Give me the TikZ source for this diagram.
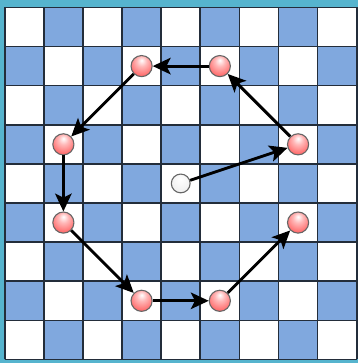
\documentclass[tikz,border=0pt]{standalone}
\usepackage{xcolor}
\usepackage{tikz}
\usetikzlibrary{arrows.meta,positioning,shadings}

\definecolor{cellblue}{RGB}{128,168,222}
\definecolor{gridink}{RGB}{35,45,58}
\definecolor{frameteal}{RGB}{86,180,206}

\pgfdeclareradialshading{pinkball}{\pgfpoint{0bp}{14bp}}{%
  color(0bp)=(white); color(12bp)=(red!28!white);
  color(36bp)=(red!68!white); color(64bp)=(red!70!black!85!white)}
\pgfdeclareradialshading{greyball}{\pgfpoint{0bp}{12bp}}{%
  color(0bp)=(white); color(28bp)=(gray!12); color(62bp)=(gray!45)}

\begin{document}
\begin{tikzpicture}[
    >={Stealth[length=13pt,width=12pt,inset=3pt]},
    cell/.style={fill=cellblue},
    gridlines/.style={draw=gridink, line width=1.2pt},
    stone/.style={
        circle,
        inner sep=0pt,
        minimum size=0.54cm,
        draw=gray!80!black,
        line width=0.8pt,
        shading=pinkball
    },
    home/.style={
        stone,
        minimum size=0.48cm,
        shading=greyball
    },
    arr/.style={->, line width=2.1pt}
]

\useasboundingbox (-0.12,-0.09) rectangle (9.04,9.19);
\fill[frameteal] (-0.12,-0.09) rectangle (9.04,9.19);
\fill[white] (0,0) rectangle (9,9);

\foreach \i in {0,...,8}
  \foreach \j in {0,...,8}{
    \pgfmathtruncatemacro{\odd}{mod(\i+\j,2)}
    \ifnum\odd=1 \fill[cell] (\i,\j) rectangle ++(1,1); \fi
  }
\draw[gridlines] (0,0) grid (9,9);

\node[home] (start) at (4.5,4.5) {};
\node[stone] (nnw) at (3.5,7.5) {};
\node[stone] (nne) at (5.5,7.5) {};
\node[stone] (ene) at (7.5,5.5) {};
\node[stone] (ese) at (7.5,3.5) {};
\node[stone] (sse) at (5.5,1.5) {};
\node[stone] (ssw) at (3.5,1.5) {};
\node[stone] (wsw) at (1.5,3.5) {};
\node[stone] (wnw) at (1.5,5.5) {};

\draw[arr] (start) -- (ene);
\draw[arr] (ene) -- (nne);
\draw[arr] (nne) -- (nnw);
\draw[arr] (nnw) -- (wnw);
\draw[arr] (wnw) -- (wsw);
\draw[arr] (wsw) -- (ssw);
\draw[arr] (ssw) -- (sse);
\draw[arr] (sse) -- (ese);

\end{tikzpicture}
\end{document}
